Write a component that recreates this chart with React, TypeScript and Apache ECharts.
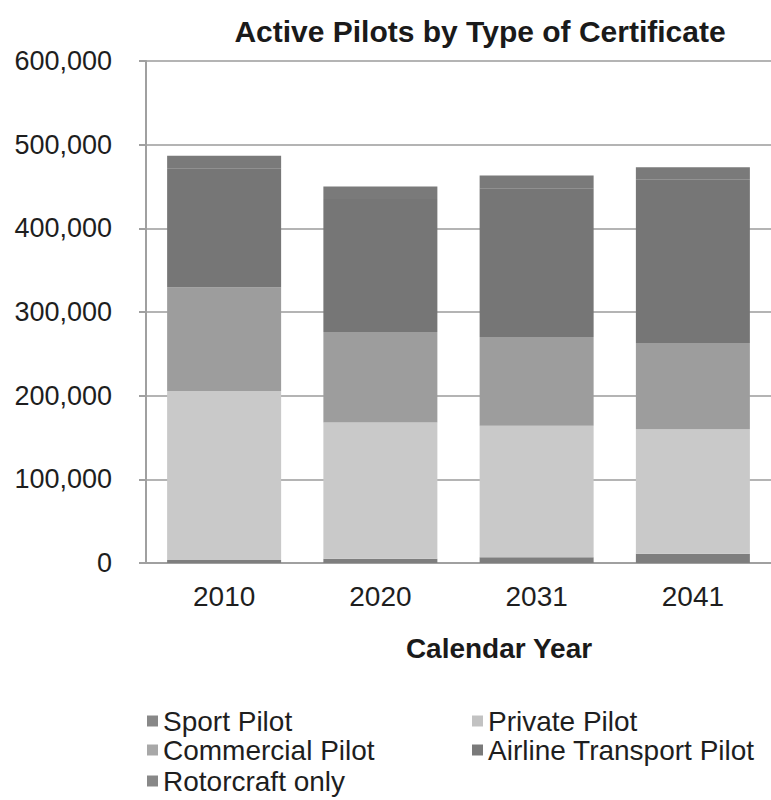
import React, { useEffect, useRef } from "react";
import * as echarts from "echarts";

const categories = ["2010", "2020", "2031", "2041"];
const sportPilot = [3700, 5000, 7000, 11000];
const privatePilot = [202000, 163000, 157000, 149000];
const commercialPilot = [124000, 108000, 106000, 103000];
const airlineTransportPilot = [142000, 159000, 178000, 195000];
const rotorcraftOnly = [15000, 15000, 15000, 15000];

const seriesNames = ["Sport Pilot", "Private Pilot", "Commercial Pilot", "Airline Transport Pilot", "Rotorcraft only"];
const seriesColors = ["#7e7e7e", "#c9c9c9", "#9d9d9d", "#767676", "#7a7a7a"];
const legendColors = ["#888888", "#c2c2c2", "#a8a8a8", "#7a7a7a", "#888888"];

const FONT = "'Liberation Sans', Arial, sans-serif";

export default function App() {
  const ref = useRef<HTMLDivElement>(null);
  useEffect(() => {
    if (!ref.current) return;
    const chart = echarts.init(ref.current, undefined, { renderer: "svg" });
    const data = [sportPilot, privatePilot, commercialPilot, airlineTransportPilot, rotorcraftOnly];
    const legendPos = [
      { left: 147, top: 707 },
      { left: 472, top: 707 },
      { left: 147, top: 736 },
      { left: 472, top: 736 },
      { left: 147, top: 767 },
    ];
    chart.setOption({
      animation: false,
      backgroundColor: "#ffffff",
      textStyle: { fontFamily: FONT },
      title: [
        {
          text: "Active Pilots by Type of Certificate",
          left: 475,
          top: 11,
          textAlign: "center",
          textStyle: { fontFamily: FONT, fontSize: 30, fontWeight: "bold", color: "#1a1a1a" },
        },
        {
          text: "Calendar Year",
          left: 494,
          top: 629,
          textAlign: "center",
          textStyle: { fontFamily: FONT, fontSize: 28, fontWeight: "bold", color: "#1a1a1a" },
        },
      ],
      legend: seriesNames.map((n, i) => ({
        data: [{ name: n, itemStyle: { color: legendColors[i] } }],
        left: legendPos[i].left,
        top: legendPos[i].top,
        padding: 0,
        itemWidth: 11,
        itemHeight: 11,
        itemGap: 5,
        icon: "rect",
        selectedMode: false,
        textStyle: { fontFamily: FONT, fontSize: 28, color: "#1e1e1e", padding: [0, 0, 0, 0] },
      })),
      grid: { left: 146, top: 61, width: 632, height: 502, containLabel: false },
      xAxis: {
        type: "category",
        data: categories,
        axisLine: { show: true, lineStyle: { color: "#a0a0a0", width: 2 } },
        axisTick: { show: false },
        axisLabel: { fontFamily: FONT, fontSize: 28, color: "#1e1e1e", margin: 19 },
      },
      yAxis: {
        type: "value",
        min: 0,
        max: 600000,
        interval: 100000,
        axisLine: { show: true, lineStyle: { color: "#a0a0a0", width: 2 } },
        axisTick: { show: true, length: 7, lineStyle: { color: "#a0a0a0", width: 2 } },
        splitLine: { show: true, lineStyle: { color: "#b4b4b4", width: 2 } },
        axisLabel: {
          fontFamily: FONT,
          fontSize: 27,
          color: "#1e1e1e",
          margin: 34,
          formatter: (v: number) => v.toLocaleString("en-US"),
        },
      },
      series: seriesNames.map((n, i) => ({
        name: n,
        type: "bar",
        stack: "total",
        barWidth: 114,
        data: data[i],
        itemStyle: { color: seriesColors[i] },
      })),
    });
    return () => chart.dispose();
  }, []);
  return (
    <div
      ref={ref}
      style={{ position: "fixed", left: 0, top: 0, width: 771, height: 800 }}
    />
  );
}
